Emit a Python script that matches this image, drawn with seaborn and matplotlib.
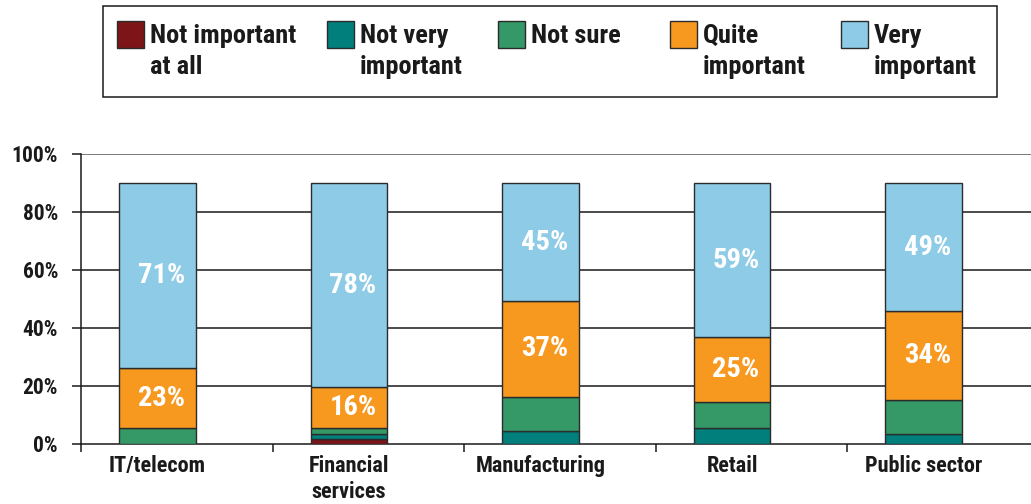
import numpy as np
import matplotlib
matplotlib.use("Agg")
import matplotlib.pyplot as plt
from matplotlib.patches import Rectangle
from matplotlib.ticker import FixedLocator
import seaborn as sns

# Survey responses by sector (percent of respondents)
sectors = ["IT/telecom", "Financial\nservices", "Manufacturing", "Retail", "Public sector"]
not_important_at_all = [0, 2, 0, 0, 0]
not_very_important = [0, 2, 5, 6, 4]
not_sure = [6, 2, 13, 10, 13]
quite_important = [23, 16, 37, 25, 34]
very_important = [71, 78, 45, 59, 49]

series_names = ["Not important\nat all", "Not very\nimportant", "Not sure",
                "Quite\nimportant", "Very\nimportant"]
series_values = [not_important_at_all, not_very_important, not_sure,
                 quite_important, very_important]
labelled = [False, False, False, True, True]
colors = ["#7d1518", "#007f7c", "#349966", "#f7981f", "#8dcbe6"]

tick_labels = ["0%", "20%", "40%", "60%", "80%", "100%"]

sns.set_theme(style="white")
plt.rcParams["font.family"] = ["Roboto Condensed", "IBM Plex Sans Condensed", "DejaVu Sans"]
plt.rcParams["font.weight"] = "bold"

W, H = 1031, 504
fig = plt.figure(figsize=(W / 100, H / 100), dpi=100)
# plot area runs off the right edge of the canvas
ax = fig.add_axes([81 / W, 1 - 444 / H, 957.5 / W, (444 - 153.5) / H])

# axis scale: a full stack spans just under nine tenths of the labelled range
axis_top = 111.5
y_ticks = np.linspace(0, axis_top, len(tick_labels))

bottom = np.zeros(len(sectors))
for name, vals, col, lab in zip(series_names, series_values, colors, labelled):
    vals = np.array(vals, dtype=float)
    sns.barplot(x=sectors, y=vals, bottom=bottom, color=col, width=0.4,
                edgecolor="#2b2b2b", linewidth=1.0, ax=ax, zorder=3,
                saturation=1)
    if lab:
        for i, v in enumerate(vals):
            ax.text(i + 0.02, bottom[i] + v / 2, f"{v:.0f}%", ha="center", va="center",
                    color="white", fontsize=20.5, fontweight="bold", zorder=4)
    bottom = bottom + vals

ax.set_xlim(-0.40, 4.60)
ax.set_ylim(0, axis_top)
ax.set_yticks(y_ticks)
ax.set_yticklabels(tick_labels)
ax.set_xlabel("")
ax.set_ylabel("")

# horizontal gridlines
for i, y in enumerate(y_ticks[1:]):
    ax.axhline(y, color="#1a1a1a" if i < len(y_ticks) - 2 else "#555555",
               lw=1.1, zorder=1)

for s in ["top", "right"]:
    ax.spines[s].set_visible(False)
for s in ["left", "bottom"]:
    ax.spines[s].set_color("#1a1a1a")
    ax.spines[s].set_linewidth(1.1)

ax.tick_params(axis="y", which="major", direction="out", length=6.5, width=1.1,
               color="#1a1a1a", left=True, labelsize=15.5, labelcolor="#1a1a1a", pad=10)
ax.tick_params(axis="x", which="major", length=0, labelsize=16,
               labelcolor="#1a1a1a", pad=8)
ax.xaxis.set_minor_locator(FixedLocator(np.arange(-0.40, 4.0, 1.0)))
ax.tick_params(axis="x", which="minor", direction="out", length=6, width=1.1,
               color="#1a1a1a", bottom=True)
for t in ax.get_xticklabels() + ax.get_yticklabels():
    t.set_fontweight("bold")
    t.set_linespacing(1.25)

# legend box along the top, each swatch level with the first line of its label
def fx(px):
    return px / W

def fy(py):
    return 1 - py / H

fig.add_artist(Rectangle((fx(103), fy(97)), fx(997) - fx(103), fy(6) - fy(97),
                         transform=fig.transFigure, facecolor="white",
                         edgecolor="#1a1a1a", linewidth=1.1))
swatch_left = [117, 327, 498, 670, 841]
for x0, col, name in zip(swatch_left, colors, series_names):
    fig.add_artist(Rectangle((fx(x0), fy(48)), fx(27), 27 / H,
                             transform=fig.transFigure, facecolor=col,
                             edgecolor="#2b2b2b", linewidth=1.0))
    fig.text(fx(x0 + 33), fy(24), name, ha="left", va="top", fontsize=19,
             fontweight="bold", color="#1a1a1a", linespacing=1.35)

fig.savefig("out.png", dpi=100)
